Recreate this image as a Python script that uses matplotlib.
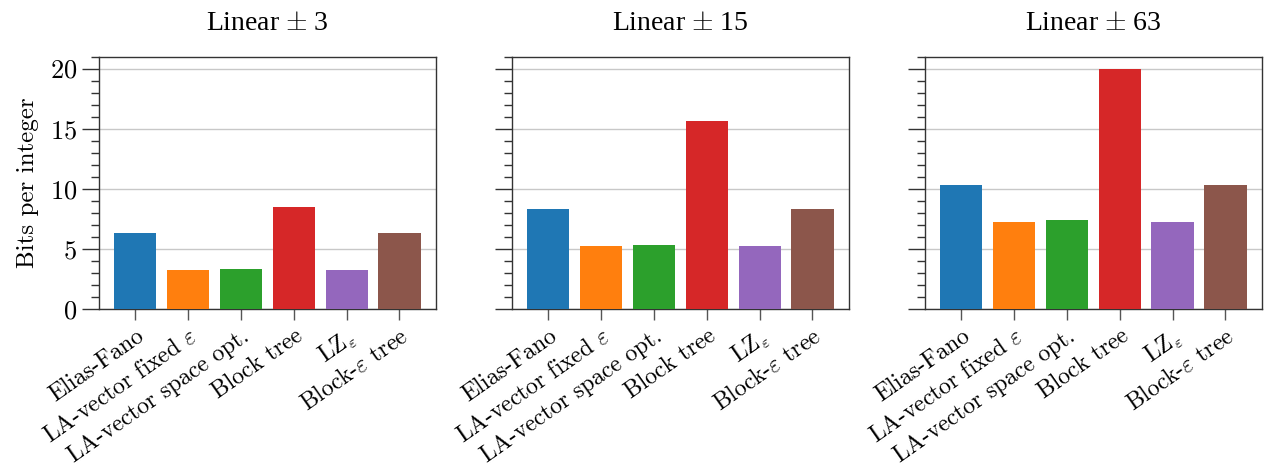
import matplotlib
matplotlib.use('Agg')
import matplotlib.pyplot as plt
from matplotlib.ticker import MultipleLocator

plt.rcParams['font.family'] = 'cmr10'
plt.rcParams['mathtext.fontset'] = 'cm'
plt.rcParams['axes.formatter.use_mathtext'] = True

# data
methods = ['Elias-Fano', r'LA-vector fixed $\varepsilon$', 'LA-vector space opt.',
           'Block tree', r'LZ$_\varepsilon$', r'Block-$\varepsilon$ tree']
titles = [r'Linear $\pm$ 3', r'Linear $\pm$ 15', r'Linear $\pm$ 63']
bits_3 = [6.3, 3.24, 3.32, 8.46, 3.24, 6.3]
bits_15 = [8.3, 5.23, 5.31, 15.68, 5.23, 8.3]
bits_63 = [10.29, 7.22, 7.39, 20.0, 7.22, 10.29]
colors = ['#1f77b4', '#ff7f0e', '#2ca02c', '#d62728', '#9467bd', '#8c564b']

fig, axes = plt.subplots(1, 3, figsize=(12.67, 4.67), dpi=100, sharey=True)
fig.subplots_adjust(left=0.078, right=0.996, bottom=0.338, top=0.879, wspace=0.225)

for ax, title, vals in zip(axes, titles, [bits_3, bits_15, bits_63]):
    x = range(len(methods))
    ax.bar(x, vals, width=0.8, color=colors, zorder=3)
    ax.set_title(title, fontsize=20, family='Liberation Serif', pad=19)
    ax.set_xticks(list(x))
    ax.set_xticklabels(methods, rotation=35, ha='right', rotation_mode='anchor', fontsize=17)
    ax.yaxis.set_major_locator(MultipleLocator(5))
    ax.yaxis.set_minor_locator(MultipleLocator(1))
    ax.grid(axis='y', which='major', color='#c8c8c8', linewidth=1, zorder=0)
    ax.tick_params(axis='y', which='major', length=12, width=1, labelsize=19, color='#333333')
    ax.tick_params(axis='y', which='minor', length=6, width=1, color='#333333')
    ax.tick_params(axis='x', length=8, width=1, color='#555555')
    for s in ax.spines.values():
        s.set_color('#333333')
        s.set_linewidth(1)

axes[0].set_ylabel('Bits per integer', fontsize=18, labelpad=8)

plt.savefig('out.png', dpi=100)
